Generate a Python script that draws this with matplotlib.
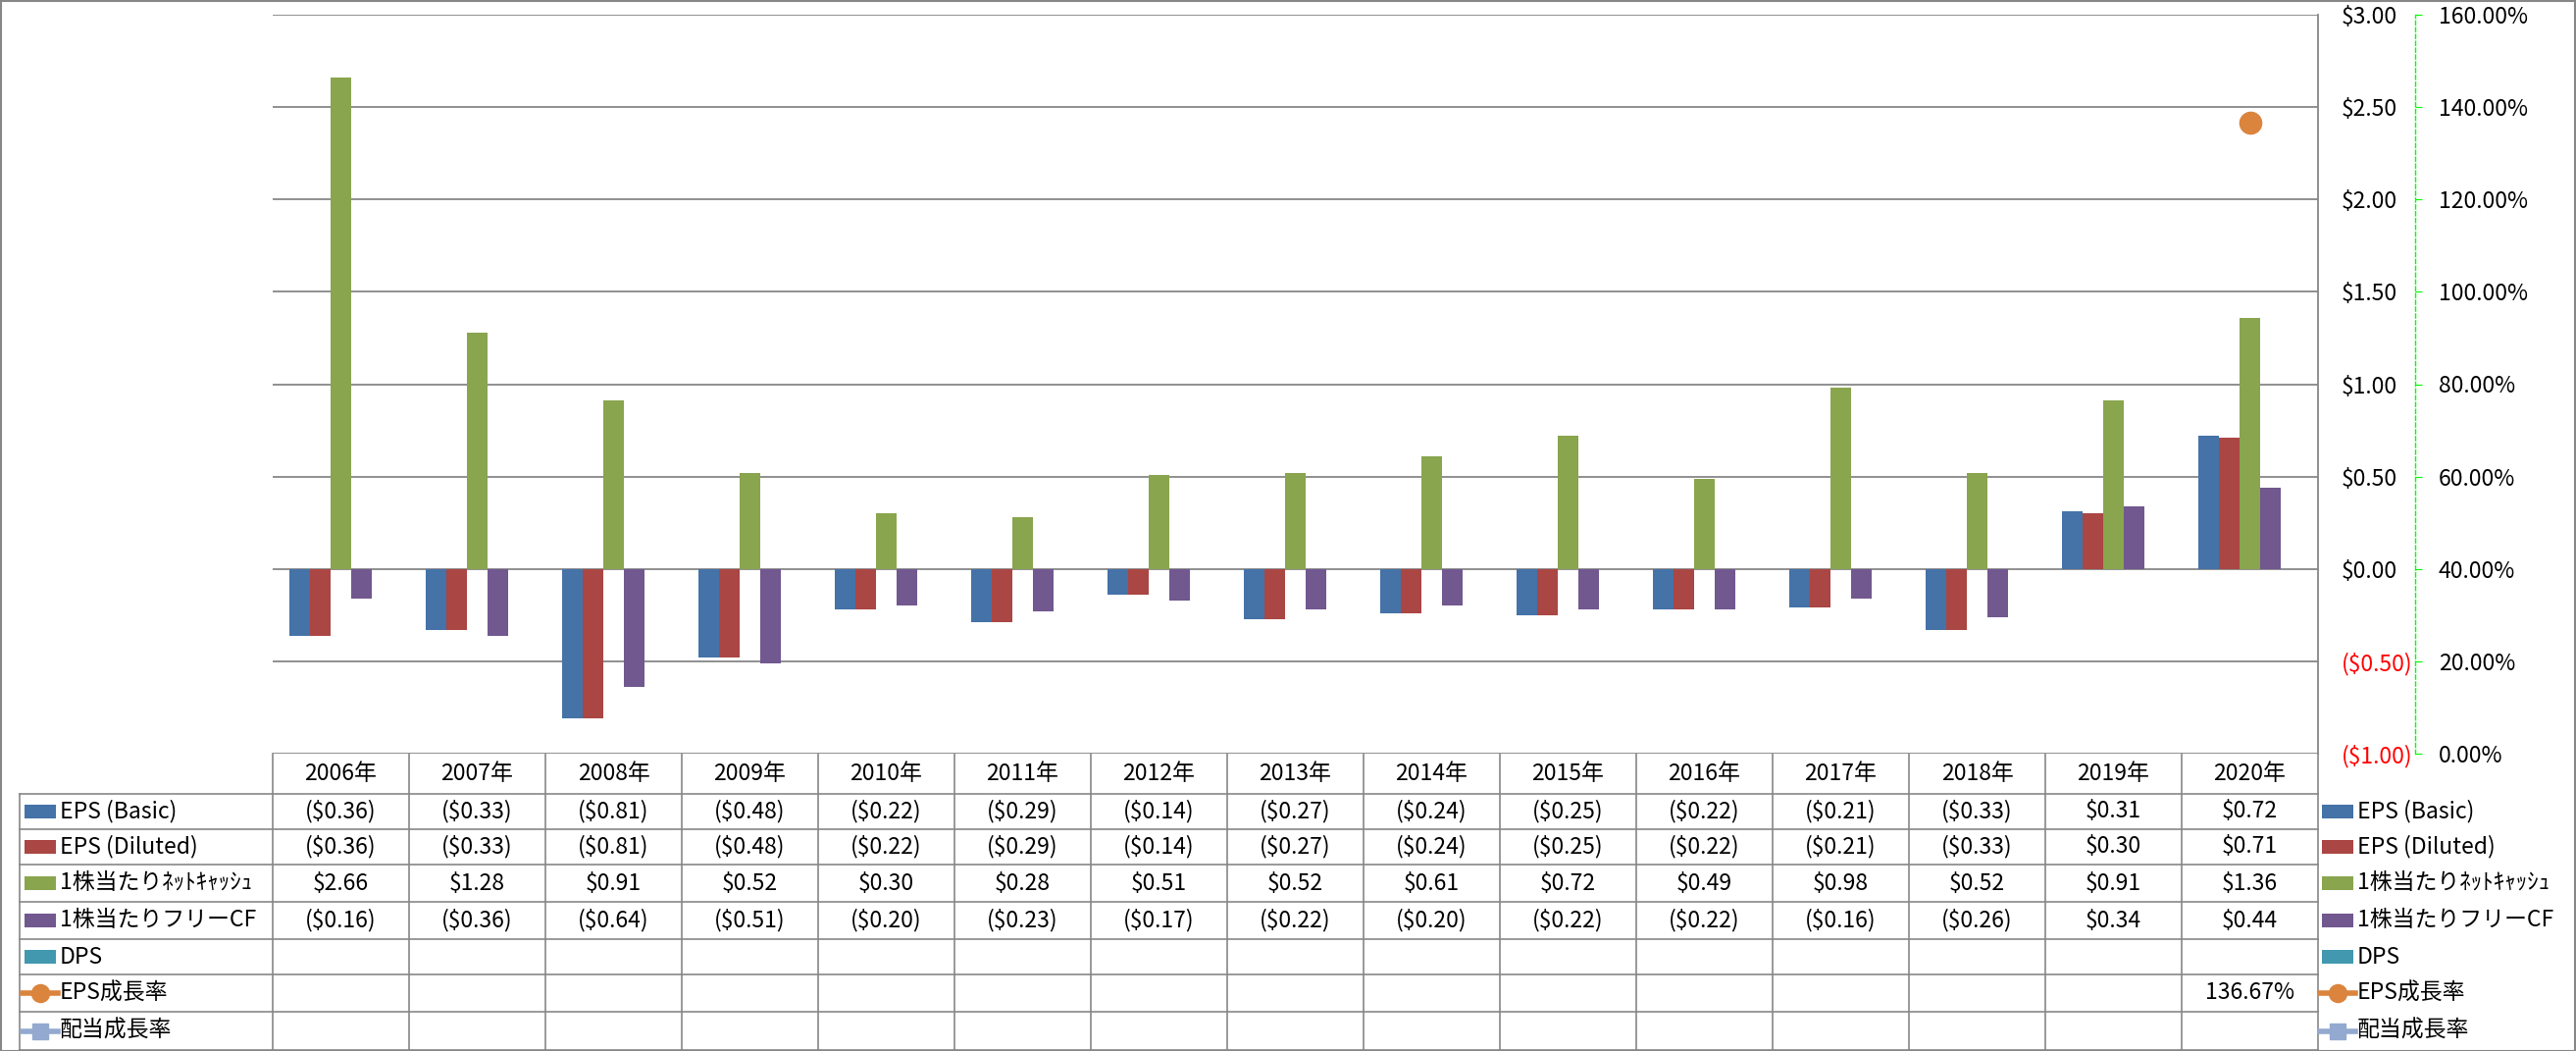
import numpy as np
import matplotlib
matplotlib.use('Agg')
import matplotlib.pyplot as plt
from matplotlib.patches import Rectangle
from matplotlib.lines import Line2D
from matplotlib.transforms import blended_transform_factory

plt.rcParams['font.family'] = ['Noto Sans CJK JP', 'DejaVu Sans']

# ---------------------------
# data
# ---------------------------
years = ['2006年', '2007年', '2008年', '2009年', '2010年', '2011年', '2012年', '2013年',
         '2014年', '2015年', '2016年', '2017年', '2018年', '2019年', '2020年']
eps_basic = [-0.36, -0.33, -0.81, -0.48, -0.22, -0.29, -0.14, -0.27, -0.24, -0.25, -0.22, -0.21, -0.33, 0.31, 0.72]
eps_diluted = [-0.36, -0.33, -0.81, -0.48, -0.22, -0.29, -0.14, -0.27, -0.24, -0.25, -0.22, -0.21, -0.33, 0.30, 0.71]
net_cash = [2.66, 1.28, 0.91, 0.52, 0.30, 0.28, 0.51, 0.52, 0.61, 0.72, 0.49, 0.98, 0.52, 0.91, 1.36]
free_cf = [-0.16, -0.36, -0.64, -0.51, -0.20, -0.23, -0.17, -0.22, -0.20, -0.22, -0.22, -0.16, -0.26, 0.34, 0.44]
dps = [None] * 15
eps_growth = [None] * 14 + [136.67]
div_growth = [None] * 15

names = ['EPS (Basic)', 'EPS (Diluted)', '1株当たりﾈｯﾄｷｬｯｼｭ', '1株当たりフリーCF',
         'DPS', 'EPS成長率', '配当成長率']
colors = ['#4572A7', '#AA4643', '#89A54E', '#71588F', '#4198AF', '#DB843D', '#93A9CF']

W, H = 2626, 1071
L, R, TOP, BOT = 278, 2363, 15, 768
GRID = '#878787'
FS = 16.5

fig = plt.figure(figsize=(W / 100, H / 100), dpi=100)

# ---------------------------
# bars (primary axis)
# ---------------------------
ax = fig.add_axes([L / W, 1 - BOT / H, (R - L) / W, (BOT - TOP) / H])
x = np.arange(len(years))
bw = 0.151
bar_series = [eps_basic, eps_diluted, net_cash, free_cf, dps]
for k, vals in enumerate(bar_series):
    v = np.array([np.nan if a is None else a for a in vals], dtype=float)
    ok = ~np.isnan(v)
    if ok.any():
        ax.bar(x[ok] + (k - 2) * bw, v[ok], width=bw, color=colors[k], zorder=3)

ax.set_xlim(-0.5, len(years) - 0.5)
ax.set_ylim(-1, 3)
ax.tick_params(axis='x', length=0, labelbottom=False)
ax.yaxis.grid(True, color=GRID, lw=1.3, zorder=0)
for s in ['top', 'left', 'bottom']:
    ax.spines[s].set_visible(False)
ax.spines['right'].set_color(GRID)
ax.spines['right'].set_linewidth(1.3)

# ---------------------------
# growth rates (secondary axis)
# ---------------------------
ax2 = ax.twinx()
ax.yaxis.tick_right()
ax.tick_params(axis='y', which='both', left=False, right=False, labelleft=False,
               labelright=True, length=0, pad=17, labelsize=FS)
ticks = np.arange(-1, 3.01, 0.5)
ax.set_yticks(ticks)
ax.set_yticklabels([('($%.2f)' % abs(t)) if t < 0 else ('$%.2f' % t) for t in ticks])
for tk, t in zip(ax.yaxis.get_major_ticks(), ticks):
    if t < 0:
        tk.label2.set_color('#FF0000')

ax2.set_ylim(0, 160)
pt = np.arange(0, 161, 20)
ax2.set_yticks(pt)
ax2.set_yticklabels(['%.2f%%' % p for p in pt])
for s in ['top', 'left', 'bottom']:
    ax2.spines[s].set_visible(False)
ax2.spines['right'].set_position(('outward', 99 * 0.72))
ax2.spines['right'].set_color('#00FF00')
ax2.spines['right'].set_linestyle((0, (3, 2)))
ax2.spines['right'].set_linewidth(1)
ax2.tick_params(axis='y', length=5, color='#00FF00', pad=12, labelsize=FS)
g = np.array([np.nan if a is None else a for a in eps_growth], dtype=float)
ax2.plot(x, g, color=colors[5], lw=2.5, marker='o', ms=16, zorder=5)
d = np.array([np.nan if a is None else a for a in div_growth], dtype=float)
ax2.plot(x, d, color=colors[6], lw=2.5, marker='s', ms=12, zorder=5)

# ---------------------------
# data table
# ---------------------------
tab = fig.add_axes([0, 0, 1, 1], zorder=-1)
tab.set_xlim(0, W)
tab.set_ylim(H, 0)
tab.axis('off')
bt = blended_transform_factory(ax.transData, tab.transData)

rows = [768, 809, 845, 881, 919, 957, 993, 1031, 1070]

# grid
for y in rows[1:]:
    tab.plot([20, R], [y, y], color=GRID, lw=1.2)
tab.plot([20, 20], [rows[1], rows[-1]], color=GRID, lw=1.2)
for i in range(len(years) + 1):
    tab.plot([i - 0.5, i - 0.5], [rows[0], rows[-1]], color=GRID, lw=1.2, transform=bt)


def fmt_money(v):
    if v is None:
        return ''
    return '($%.2f)' % abs(v) if v < 0 else '$%.2f' % v


def fmt_pct(v):
    return '' if v is None else '%.2f%%' % v


table_rows = [[fmt_money(v) for v in s] for s in bar_series]
table_rows += [[fmt_pct(v) for v in eps_growth], [fmt_pct(v) for v in div_growth]]

for i, yr in enumerate(years):
    tab.text(i, (rows[0] + rows[1]) / 2, yr, transform=bt, ha='center', va='center', fontsize=FS)
for r, vals in enumerate(table_rows):
    yc = (rows[r + 1] + rows[r + 2]) / 2
    for i, s in enumerate(vals):
        if s:
            tab.text(i, yc, s, transform=bt, ha='center', va='center', fontsize=FS)


def key(x0, yc, k):
    if k < 5:
        tab.add_patch(Rectangle((x0, yc - 7), 32, 14, color=colors[k], lw=0))
    else:
        mk = 'o' if k == 5 else 's'
        tab.add_line(Line2D([x0 - 2, x0 + 34], [yc, yc], color=colors[k], lw=4))
        tab.plot([x0 + 16], [yc], marker=mk, ms=13 if k == 5 else 12, color=colors[k])


for r, nm in enumerate(names):
    yc = (rows[r + 1] + rows[r + 2]) / 2
    key(25, yc, r)
    tab.text(61, yc, nm, ha='left', va='center', fontsize=FS)
    key(2367, yc, r)
    tab.text(2403, yc, nm, ha='left', va='center', fontsize=FS)

# chart border
fig.patches.append(Rectangle((0.5 / W, 0.5 / H), 1 - 1.5 / W, 1 - 1.5 / H,
                             transform=fig.transFigure, fill=False,
                             edgecolor=GRID, lw=1.5))

fig.savefig('out.png', dpi=100)
